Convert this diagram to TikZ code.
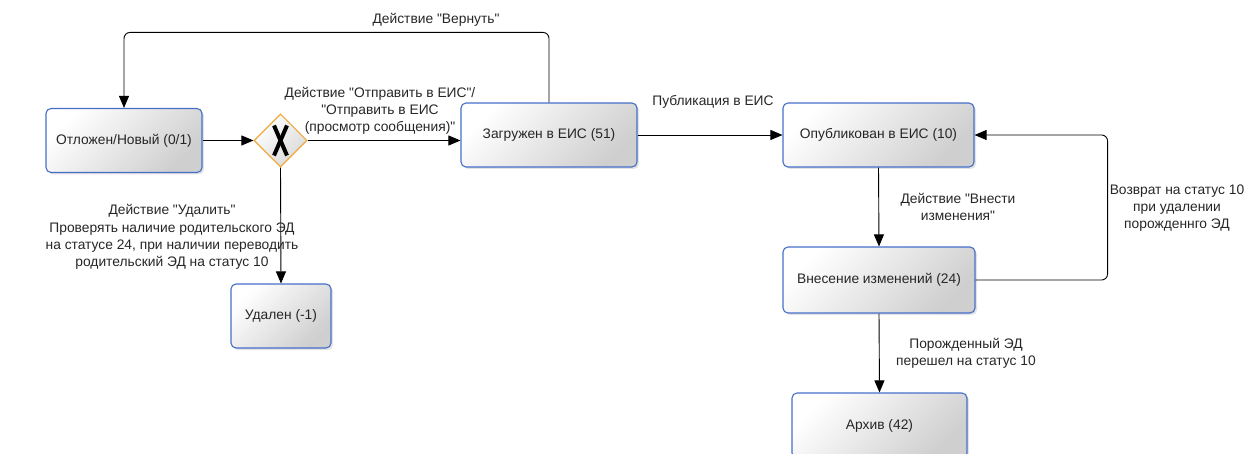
\documentclass[tikz,border=0pt]{standalone}
\usepackage{fontspec}
\setmainfont{Liberation Sans}[Ligatures=TeXOff]
\usetikzlibrary{arrows.meta,shapes.geometric,shadows}
\definecolor{boxblue}{RGB}{70,110,200}
\definecolor{gwor}{RGB}{240,170,60}
\tikzset{
  state/.style={draw=boxblue, line width=1.1pt, rounded corners=5pt, minimum width=#1, minimum height=64pt,
    top color=white, bottom color=gray!38, shading angle=45, inner sep=0pt, text=black!85,
    drop shadow={shadow xshift=2pt, shadow yshift=-2pt, opacity=0.22}, font=\fontsize{13.8}{16}\selectfont},
  gate/.style={diamond, draw=gwor, line width=1.1pt, minimum width=53pt, minimum height=53pt, inner sep=0pt,
    top color=white, bottom color=gray!30, shading angle=45},
  conn/.style={line width=0.9pt, -{Triangle[length=12pt,width=10pt]}},
  lbl/.style={align=center, font=\fontsize{13.8}{17.3}\selectfont, inner sep=0pt, text=black!85}
}
\begin{document}
\begin{tikzpicture}[x=1pt,y=-1pt]
\useasboundingbox (0,0) rectangle (1255,454);
\begin{scope}
\clip (-5,-5) rectangle (1260,454);
\node[state=156pt] (n1) at (124,140.5) {Отложен/Новый (0/1)};
\node[gate] (gw) at (280.5,140.5) {};
\node[state=176pt] (n2) at (549,135) {Загружен в ЕИС (51)};
\node[state=191pt] (n3) at (878.5,135) {Опубликован в ЕИС (10)};
\node[state=192pt, minimum height=66pt] (n4) at (879,280) {Внесение изменений (24)};
\node[state=175pt, minimum height=65pt] (n5) at (879.5,425.5) {Архив (42)};
\node[state=100pt] (n6) at (281,316) {Удален (-1)};
\end{scope}
\draw[line width=4pt, line cap=butt] (gw.center) ++(-6.5,-15) -- ++(13,30);
\draw[line width=4pt, line cap=butt] (gw.center) ++(6.5,-15) -- ++(-13,30);

\draw[conn] (n1.east) -- (gw.west);
\draw[conn] (gw.east) -- (gw.east -| n2.west);
\draw[conn] (gw.south) -- (n6.north);
\draw[conn, rounded corners=6pt] (n2.north) -- ++(0,-70) -| (n1.north);
\draw[conn] (n2.east) -- (n3.west);
\draw[conn] (n3.south) -- (n4.north);
\draw[conn, rounded corners=6pt] (n4.east) -- ++(132,0) |- (n3.east);
\draw[conn] (n4.south) -- (n5.north);

\node[lbl] (l1) at (436,20) {Действие "Вернуть"};
\node[lbl] (l2) at (380,111) {Действие "Отправить в ЕИС"/\\"Отправить в ЕИС\\(просмотр сообщения)"};
\node[lbl] (l3) at (172,237) {Действие "Удалить"\\Проверять наличие родительского ЭД\\на статусе 24, при наличии переводить\\родительский ЭД на статус 10};
\node[lbl] (l4) at (713,102) {Публикация в ЕИС};
\node[lbl] (l5) at (958,207) {Действие "Внести\\изменения"};
\node[lbl] (l6) at (1177,208) {Возврат на статус 10\\при удалении\\порожденнго ЭД};
\node[lbl] (l7) at (966,353) {Порожденный ЭД\\перешел на статус 10};
\end{tikzpicture}
\end{document}
